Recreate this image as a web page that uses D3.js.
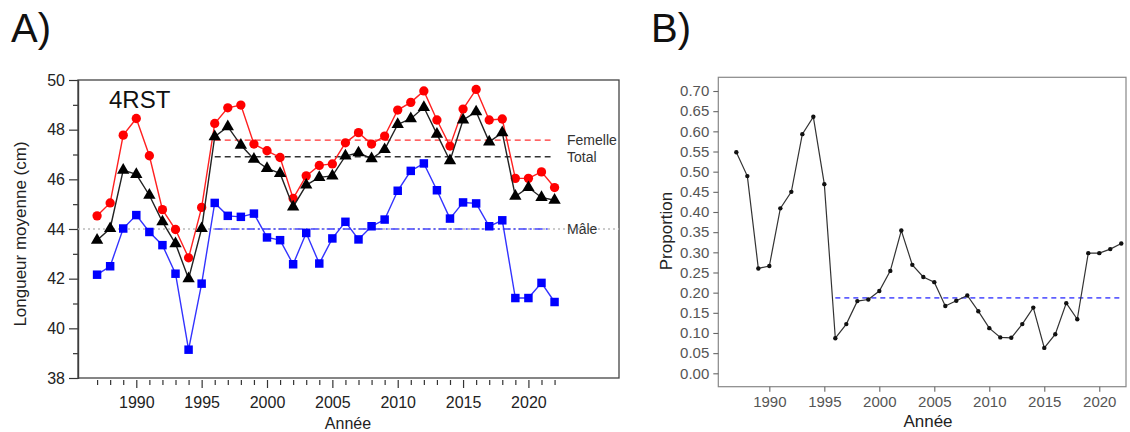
<!DOCTYPE html>
<html>
<head>
<meta charset="utf-8">
<script src="https://cdn.jsdelivr.net/npm/d3@7"></script>
<style type="text/css">
 body { margin:0; background:#ffffff; }
 svg text { font-family: "Liberation Sans", Arial, sans-serif; }
</style>
</head>
<body>
<script type="text/javascript">

 // years shared by both panels
 var years = d3.range(1987, 2023);

 // panel A: mean length (cm)
 var femelle = [44.53,45.05,47.78,48.45,46.95,44.78,43.98,42.84,44.87,48.25,48.88,48.99,47.42,47.15,46.88,45.23,46.14,46.56,46.62,47.47,47.88,47.42,47.74,48.79,49.10,49.56,48.39,47.34,48.83,49.62,48.39,48.43,46.04,46.04,46.30,45.67];
 var total   = [43.55,44.02,46.37,46.20,45.36,44.29,43.41,42.00,44.02,47.72,48.12,47.38,46.81,46.44,46.24,44.89,45.77,46.08,46.14,46.94,47.07,46.83,47.20,48.21,48.44,48.90,47.82,46.75,48.39,48.72,47.51,47.88,45.32,45.67,45.27,45.16];
 var male    = [42.16,42.50,44.02,44.56,43.88,43.35,42.20,39.14,41.80,45.05,44.53,44.49,44.62,43.66,43.55,42.58,43.84,42.61,43.62,44.29,43.58,44.11,44.38,45.54,46.34,46.64,45.56,44.42,45.07,45.03,44.11,44.35,41.22,41.22,41.83,41.06];
 var refLines = [
   {name:"Femelle", value:47.58},
   {name:"Total",   value:46.91},
   {name:"Mâle",    value:44.00}
 ];
 var refStart = 1996, refEnd = 2022;

 // panel B: proportion
 var proportion = [0.548,0.489,0.260,0.266,0.409,0.450,0.593,0.636,0.469,0.087,0.122,0.179,0.183,0.204,0.254,0.354,0.269,0.239,0.226,0.167,0.180,0.193,0.154,0.112,0.089,0.088,0.122,0.163,0.063,0.097,0.174,0.134,0.298,0.298,0.308,0.322];
 var propMean = 0.187;

 var yTicksA = d3.range(38, 51, 2);
 var yMinorA = d3.range(39, 50, 2);
 var xTicks = d3.range(1990, 2021, 5);
 var yTicksB = d3.range(0, 0.7001, 0.05);

 var svg = d3.select("body").append("svg")
             .attr("width", 1130)
             .attr("height", 432);

 // ---------- panel A ----------
 var xA = d3.scaleLinear().domain([1985.54, 2026.93]).range([78, 619]);
 var yA = d3.scaleLinear().domain([38, 50]).range([378, 80]);

 var gA = svg.append("g");

 // y axis: major and minor ticks
 gA.append("g").attr("transform", "translate(78,0)")
   .call(d3.axisLeft(yA).tickValues(yTicksA).tickSize(9).tickPadding(4).tickFormat(d3.format("d")))
   .call(styleAxisA);
 gA.append("g").attr("transform", "translate(78,0)")
   .call(d3.axisLeft(yA).tickValues(yMinorA).tickSize(5).tickFormat(""))
   .call(styleAxisA);

 // x axis: major and minor ticks, slightly below the frame
 gA.append("g").attr("transform", "translate(0,380)")
   .call(d3.axisBottom(xA).tickValues(xTicks).tickSize(8).tickPadding(9).tickFormat(d3.format("d")))
   .call(styleAxisA).call(function(g){ g.select(".domain").remove(); });
 gA.append("g").attr("transform", "translate(0,380)")
   .call(d3.axisBottom(xA).tickValues(years.filter(function(y){ return y % 5 != 0; })).tickSize(5).tickFormat(""))
   .call(styleAxisA).call(function(g){ g.select(".domain").remove(); });

 function styleAxisA(g) {
   g.selectAll("text").style("font-size", "16px").attr("fill", "#222");
   g.selectAll("line").attr("stroke", "#333").attr("stroke-width", 1.2);
   g.select(".domain").attr("stroke", "#333").attr("stroke-width", 1.2);
 }

 // frame
 gA.append("rect").attr("x", 78).attr("y", 80).attr("width", 541).attr("height", 298)
   .attr("fill", "none").attr("stroke", "#444").attr("stroke-width", 1.3);

 // grey dotted line at 44 across the whole panel
 gA.append("line")
   .attr("x1", xA.range()[0]).attr("x2", xA.range()[1])
   .attr("y1", yA(44)).attr("y2", yA(44))
   .attr("stroke", "#bbbbbb").attr("stroke-width", 1.3).attr("stroke-dasharray", "2,3");

 var refStyle = {
   "Femelle": {color:"#ff3030", dash:"6,4"},
   "Total":   {color:"#333333", dash:"6,4"},
   "Mâle":    {color:"#4444ff", dash:"8,3,2,3"}
 };
 refLines.forEach(function(r){
   gA.append("line")
     .attr("x1", xA(refStart)).attr("x2", xA(refEnd) - 4)
     .attr("y1", yA(r.value)).attr("y2", yA(r.value))
     .attr("stroke", refStyle[r.name].color).attr("stroke-width", 1.3)
     .attr("stroke-dasharray", refStyle[r.name].dash);
   gA.append("text")
     .attr("x", 567).attr("y", yA(r.value)).attr("dy", "0.35em")
     .style("font-size", "14px").attr("fill", "#333")
     .text(r.name);
 });

 var lineA = d3.line().x(function(d){ return xA(d[0]); }).y(function(d){ return yA(d[1]); });

 function series(vals, color, lineColor, shape, size) {
   var pts = years.map(function(y, i){ return [y, vals[i]]; });
   gA.append("path").datum(pts).attr("d", lineA)
     .attr("fill", "none").attr("stroke", lineColor).attr("stroke-width", 1.4);
   gA.selectAll(null).data(pts).enter().append("path")
     .attr("transform", function(d){ return "translate(" + xA(d[0]) + "," + yA(d[1]) + ")"; })
     .attr("d", d3.symbol().type(shape).size(size))
     .attr("fill", color);
 }

 series(male, "#0000ff", "#3333ff", d3.symbolSquare, 72);
 series(femelle, "#ff0000", "#ff2020", d3.symbolCircle, 68);
 series(total, "#000000", "#222222", d3.symbolTriangle, 66);

 gA.append("text").attr("x", 109).attr("y", 108)
   .style("font-size", "24px").attr("fill", "#111").text("4RST");

 gA.append("text")
   .attr("transform", "translate(26,234) rotate(-90)")
   .attr("text-anchor", "middle")
   .style("font-size", "17px").attr("fill", "#222")
   .text("Longueur moyenne (cm)");

 gA.append("text").attr("x", 348).attr("y", 429).attr("text-anchor", "middle")
   .style("font-size", "16px").attr("fill", "#222").text("Année");

 svg.append("text").attr("x", 11).attr("y", 42)
   .style("font-size", "40px").attr("fill", "#111").text("A)");

 // ---------- panel B ----------
 var xB = d3.scaleLinear().domain([1985.36, 2022.43]).range([718.3, 1126]);
 var yB = d3.scaleLinear().domain([-0.0332, 0.734]).range([386.7, 77.3]);

 var gB = svg.append("g");

 gB.append("rect").attr("x", 718.3).attr("y", 77.3).attr("width", 1126 - 718.3).attr("height", 386.7 - 77.3)
   .attr("fill", "none").attr("stroke", "#888").attr("stroke-width", 1.2);

 gB.append("g").attr("transform", "translate(718.3,0)")
   .call(d3.axisLeft(yB).tickValues(yTicksB).tickSize(5).tickPadding(4).tickFormat(d3.format(".2f")))
   .call(styleAxisB);
 gB.append("g").attr("transform", "translate(0,386.7)")
   .call(d3.axisBottom(xB).tickValues(xTicks).tickSize(5).tickPadding(5).tickFormat(d3.format("d")))
   .call(styleAxisB);

 function styleAxisB(g) {
   g.select(".domain").remove();
   g.selectAll("text").style("font-size", "15px").attr("fill", "#555");
   g.selectAll("line").attr("stroke", "#666").attr("stroke-width", 1.1);
 }

 gB.append("line")
   .attr("x1", xB(refStart)).attr("x2", xB(refEnd))
   .attr("y1", yB(propMean)).attr("y2", yB(propMean))
   .attr("stroke", "#6060ff").attr("stroke-width", 1.6).attr("stroke-dasharray", "5,4");

 var ptsB = years.map(function(y, i){ return [y, proportion[i]]; });
 gB.append("path").datum(ptsB)
   .attr("d", d3.line().x(function(d){ return xB(d[0]); }).y(function(d){ return yB(d[1]); }))
   .attr("fill", "none").attr("stroke", "#333").attr("stroke-width", 1.2);
 gB.selectAll("circle").data(ptsB).enter().append("circle")
   .attr("cx", function(d){ return xB(d[0]); })
   .attr("cy", function(d){ return yB(d[1]); })
   .attr("r", 2.2).attr("fill", "#111");

 gB.append("text")
   .attr("transform", "translate(672,231) rotate(-90)")
   .attr("text-anchor", "middle")
   .style("font-size", "17px").attr("fill", "#222")
   .text("Proportion");

 gB.append("text").attr("x", 928).attr("y", 427).attr("text-anchor", "middle")
   .style("font-size", "17px").attr("fill", "#222").text("Année");

 svg.append("text").attr("x", 651).attr("y", 42)
   .style("font-size", "40px").attr("fill", "#111").text("B)");

</script>
</body>
</html>
